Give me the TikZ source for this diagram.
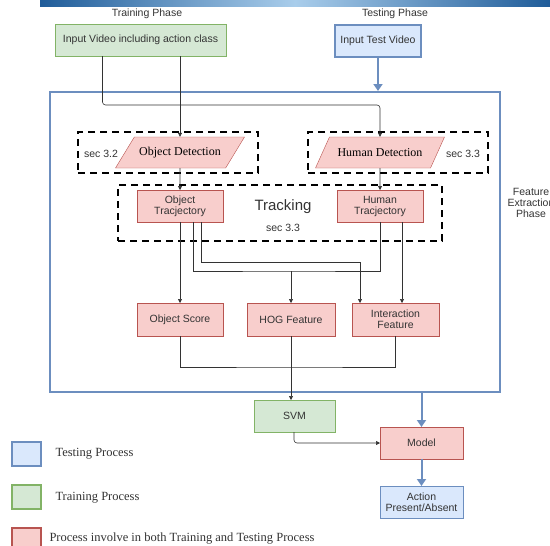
\documentclass[tikz,border=0pt]{standalone}
\usepackage{fontspec}
\setmainfont{Liberation Serif}
\setsansfont{Liberation Sans}
\usetikzlibrary{arrows.meta,shapes.geometric}

\definecolor{greenfill}{HTML}{D5E8D4}
\definecolor{greenline}{HTML}{82B366}
\definecolor{bluefill}{HTML}{DAE8FC}
\definecolor{blueline}{HTML}{6C8EBF}
\definecolor{redfill}{HTML}{F8CECC}
\definecolor{redline}{HTML}{B85450}
\definecolor{txtgray}{HTML}{333333}
\definecolor{banddark}{HTML}{1F5C99}
\definecolor{bandlight}{HTML}{A9CDEB}

\begin{document}
\begin{tikzpicture}[
    x=1pt, y=-1pt,
    font=\sffamily\fontsize{10.5}{11}\selectfont, text=txtgray,
    box/.style={draw, minimum width=86pt, minimum height=32pt, align=center, inner sep=1pt, outer sep=0pt},
    redbox/.style={box, fill=redfill, draw=redline},
    greenbox/.style={box, fill=greenfill, draw=greenline},
    bluebox/.style={box, fill=bluefill, draw=blueline},
    detect/.style={trapezium, trapezium left angle=30, trapezium right angle=150, trapezium stretches body,
        fill=redfill, draw=redline, minimum width=129pt, minimum height=31pt, inner sep=0pt,
        font=\rmfamily\fontsize{12}{13}\selectfont, text=black},
    group/.style={draw=black, line width=2pt, dash pattern=on 7pt off 5pt},
    legend/.style={draw, line width=2pt, minimum width=29pt, minimum height=24pt, inner sep=0pt},
    wire/.style={draw=black!80, line width=0.6pt},
    conn/.style={wire, -{Triangle[length=4pt,width=4pt]}},
    bigarrow/.style={draw=blueline, line width=2pt, -{Triangle[length=7pt,width=9pt]}}
]
    \useasboundingbox (0,0) rectangle (550,546);
    \clip (0,0) rectangle (550,546);
    \shade[left color=banddark, right color=banddark, middle color=bandlight] (40,0) rectangle (550,6);

    % --- Phase Labels and Inputs ---
    \node (trainlabel) at (147,14) {Training Phase};
    \node (testlabel) at (395,14) {Testing Phase};
    \node[greenbox, minimum width=171pt] (trainin) at (140.5,40) {Input Video including action class};
    \node[bluebox, line width=2pt, minimum width=86pt, minimum height=32pt] (testin) at (378,40.5) {Input Test Video};

    % --- Feature Extraction Block ---
    \node[draw=blueline, line width=2pt, minimum width=450pt, minimum height=300pt] (fep) at (275,242) {};
    \node[align=center] (feplabel) at (531,203) {Feature\\Extraction\\Phase};

    % Detection (dashed groups)
    \node[group, minimum width=180pt, minimum height=41pt] (objgroup) at (168,152.5) {};
    \node[group, minimum width=180pt, minimum height=41pt] (humgroup) at (398,152.5) {};
    \node[detect] (objdet) at (180,152.5) {Object Detection};
    \node[detect] (humdet) at (380,152.5) {Human Detection};
    \node (objsec) at (101,154) {sec 3.2};
    \node (humsec) at (463,154) {sec 3.3};

    % Tracking
    \node[group, minimum width=324pt, minimum height=56pt] (trackgroup) at (280,213) {};
    \node[redbox] (objtraj) at (180,206) {Object\\Tracjectory};
    \node[redbox] (humtraj) at (380,206) {Human\\Tracjectory};
    \node[font=\sffamily\fontsize{15}{16}\selectfont] (tracklabel) at (283,207) {Tracking};
    \node (tracksec) at (283,228) {sec 3.3};

    % Features
    \node[redbox, minimum height=33pt] (objscore) at (180,319.5) {Object Score};
    \node[redbox, minimum width=88pt, minimum height=33pt] (hog) at (291,319.5) {HOG Feature};
    \node[redbox, minimum width=87pt, minimum height=33pt] (inter) at (395.5,319.5) {Interaction\\Feature};

    % --- Classification ---
    \node[greenbox, minimum width=81pt] (svm) at (294.5,416) {SVM};
    \node[redbox, minimum width=83pt] (model) at (421.5,443) {Model};
    \node[bluebox, minimum width=83pt] (action) at (421.5,502) {Action\\Present/Absent};

    % --- Connectors ---
    \coordinate (hogbus) at (291,271);
    \coordinate (svmbus) at (291,367);
    \draw[conn] (objdet.north |- trainin.south) -- (objdet.north);
    \draw[conn, rounded corners=3pt] ([xshift=-38pt]trainin.south) -- ++(0,49) -| (humdet.north);
    \draw[bigarrow] (testin) -- (testin |- fep.north);
    \draw[conn] (objdet) -- (objtraj);
    \draw[conn] (humdet) -- (humtraj);
    \draw[conn] (objtraj) -- (objscore);
    \draw[wire] ([xshift=13pt]objtraj.south) |- (hogbus) -| (humtraj.south);
    \draw[conn] (hogbus) -- (hog.north);
    \draw[conn] ([xshift=21pt]objtraj.south) -- ++(0,40) -| ([xshift=-35.5pt]inter.north);
    \draw[conn] ([xshift=22pt]humtraj.south) -- ([xshift=22pt]humtraj.south |- inter.north);
    \draw[wire] (objscore) |- (svmbus) -| (inter);
    \draw[conn] (hog) -- (hog.south |- svm.north);
    \draw[conn, rounded corners=3pt] ([xshift=-0.5pt]svm.south) |- (model.west);
    \draw[bigarrow] (model.north |- fep.south) -- (model.north);
    \draw[bigarrow] (model) -- (action);

    % --- Legend ---
    \begin{scope}[every node/.style={font=\rmfamily\fontsize{12.5}{13}\selectfont, text=txtgray, anchor=west}]
        \node[legend, fill=bluefill, draw=blueline] (testkey) at (11,454) {};
        \node[legend, fill=greenfill, draw=greenline] (trainkey) at (11,497) {};
        \node[legend, fill=redfill, draw=redline] (bothkey) at (11,540) {};
        \node (testtxt) at (52,454) {Testing Process};
        \node (traintxt) at (52,498) {Training Process};
        \node (bothtxt) at (46,539) {Process involve in both Training and Testing Process};
    \end{scope}

\end{tikzpicture}
\end{document}
